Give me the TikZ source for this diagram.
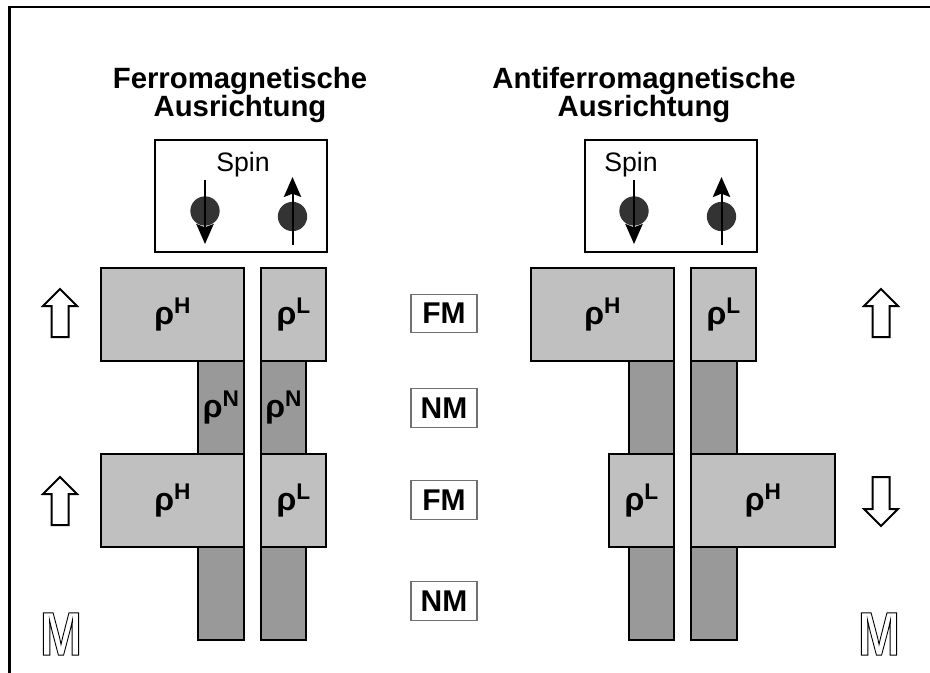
\documentclass[tikz,border=0pt]{standalone}
\usepackage{fontspec}
\setmainfont{Liberation Sans}
\usetikzlibrary{arrows.meta}
\definecolor{lightg}{HTML}{C0C0C0}
\definecolor{darkg}{HTML}{999999}
\definecolor{ballc}{HTML}{333333}
\definecolor{tagc}{HTML}{707070}
\newcommand\rhosym[1]{\textbf{ρ\raisebox{8.5pt}{\fontsize{17}{17}\selectfont #1}}}
\newcommand\outlineM{\scalebox{0.82}[1]{\special{pdf:literal direct 1 Tr 0.8 w}M\special{pdf:literal direct 0 Tr}}}
\newcommand\rbox[7]{\draw[#2] (#3,#4) rectangle (#5,#6);
  \node[lbl] (#1) at ({(#3+#5)/2},{(#4+#6)/2}) {#7};}
\newcommand\uparr[3]{\draw[hollow] (#1,#2) -- ++(17,17) -- ++(-8.5,0) -- (#1+8.5,#3) -- (#1-8.5,#3) -- (#1-8.5,#2+17) -- ++(-8.5,0) -- cycle;}
\newcommand\downarr[3]{\draw[hollow] (#1,#3) -- ++(17,-17) -- ++(-8.5,0) -- (#1+8.5,#2) -- (#1-8.5,#2) -- (#1-8.5,#3-17) -- ++(-8.5,0) -- cycle;}
\tikzset{
  hbox/.style={draw=black, fill=lightg, line width=1.5pt},
  nbox/.style={draw=black, fill=darkg, line width=1.5pt},
  lbl/.style={font=\bfseries\fontsize{24}{26}\selectfont, inner sep=0pt},
  tagbox/.style={draw=tagc, line width=0.8pt, minimum width=49.5pt, minimum height=29pt, inner sep=0pt, font=\bfseries\fontsize{22.5}{24}\selectfont},
  titletext/.style={font=\bfseries\fontsize{22}{18.75}\selectfont, align=center},
  spinbox/.style={draw=black, line width=0.8pt},
  spintext/.style={font=\fontsize{20}{20}\selectfont, inner sep=0pt},
  ball/.style={circle, fill=ballc, minimum size=22pt, inner sep=0pt},
  spinarrow/.style={line width=1.5pt, -{Stealth[length=15pt, width=13pt, inset=2.5pt]}},
  hollow/.style={draw=black, fill=white, line width=1.5pt, line join=miter},
  bigM/.style={font=\bfseries\fontsize{46}{46}\selectfont, inner sep=0pt},
}
\begin{document}
\begin{tikzpicture}[x=0.75pt, y=-0.75pt]
\useasboundingbox (0,0) rectangle (930,673);
% frame
\draw[line width=1.8pt] (9.5,673) -- (9.5,7) -- (930,7);
% titles
\node[titletext] (t1) at (240,95) {Ferromagnetische\\Ausrichtung};
\node[titletext] (t2) at (644,95) {Antiferromagnetische\\Ausrichtung};
% spin boxes
\draw[spinbox] (155,140) rectangle (327,252);
\node[spintext] (s1) at (243,165) {Spin};
\node[ball] (b1) at (205,211) {};
\node[ball] (b2) at (292.5,216.5) {};
\draw[spinarrow] (205,180) -- (205,244);
\draw[spinarrow] (292.5,245) -- (292.5,177);
\draw[spinbox] (585,140) rectangle (757,252);
\node[spintext] (s2) at (631,165) {Spin};
\node[ball] (b3) at (634,211) {};
\node[ball] (b4) at (721.5,216.5) {};
\draw[spinarrow] (634,180) -- (634,244);
\draw[spinarrow] (721.5,245) -- (721.5,177);
% left stack
\rbox{ln1}{nbox}{198}{361}{244}{454}{\rhosym{N}}
\rbox{ln2}{nbox}{261}{361}{306}{454}{\rhosym{N}}
\rbox{ln3}{nbox}{198}{547}{244}{640}{}
\rbox{ln4}{nbox}{261}{547}{306}{640}{}
\rbox{lh1}{hbox}{101}{268}{244}{361}{\rhosym{H}}
\rbox{ll1}{hbox}{261}{268}{326}{361}{\rhosym{L}}
\rbox{lh2}{hbox}{101}{454}{244}{547}{\rhosym{H}}
\rbox{ll2}{hbox}{261}{454}{326}{547}{\rhosym{L}}
% right stack
\rbox{rn1}{nbox}{629}{361}{674}{454}{}
\rbox{rn2}{nbox}{691}{361}{737}{454}{}
\rbox{rn3}{nbox}{629}{547}{674}{640}{}
\rbox{rn4}{nbox}{691}{547}{737}{640}{}
\rbox{rh1}{hbox}{531}{268}{674}{361}{\rhosym{H}}
\rbox{rl1}{hbox}{691}{268}{756}{361}{\rhosym{L}}
\rbox{rl2}{hbox}{609}{454}{674}{547}{\rhosym{L}}
\rbox{rh2}{hbox}{691}{454}{835}{547}{\rhosym{H}}
% middle tags
\node[tagbox] (fm1) at (444,313.5) {FM};
\node[tagbox] (nm1) at (444,408) {NM};
\node[tagbox] (fm2) at (444,500) {FM};
\node[tagbox] (nm2) at (444,601) {NM};
% hollow arrows
\uparr{60}{289}{337}
\uparr{60}{477}{525}
\uparr{881}{289}{337}
\downarr{881}{477}{526}
% M symbols
\node[bigM] (m1) at (61,634) {\outlineM};
\node[bigM] (m2) at (879,634) {\outlineM};
\end{tikzpicture}
\end{document}
